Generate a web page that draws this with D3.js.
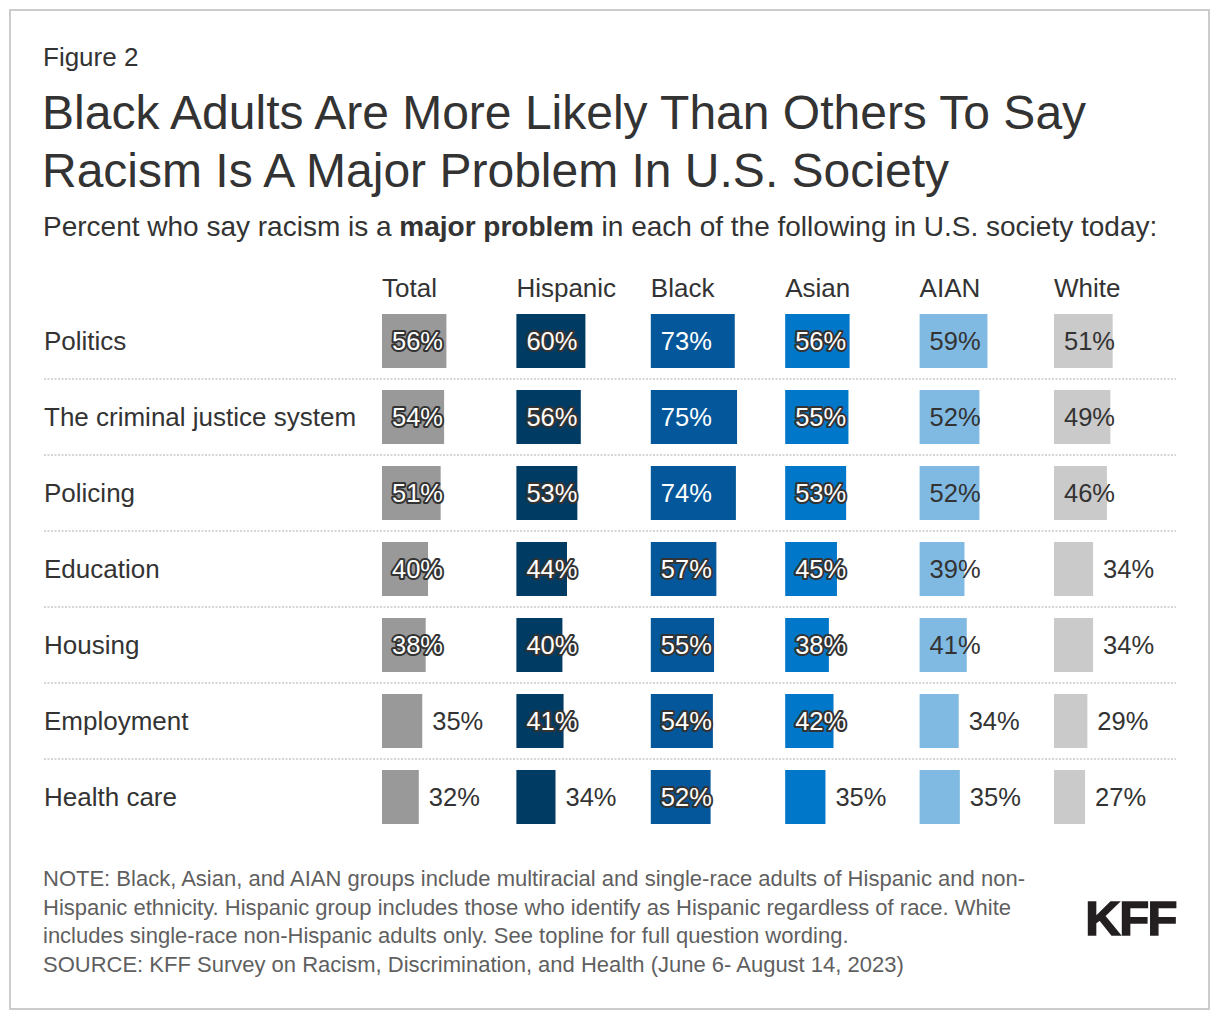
<!DOCTYPE html>
<html>
<head>
<meta charset="utf-8">
<script src="https://cdn.jsdelivr.net/npm/d3@7"></script>
<style>
  html, body { margin: 0; padding: 0; background: #fff; }
  svg { display: block; font-family: "Liberation Sans", Arial, sans-serif; }
</style>
</head>
<body>
<svg id="chart" width="1220" height="1020"></svg>
<script>
// ---- data ----
const categories = ["Politics", "The criminal justice system", "Policing", "Education", "Housing", "Employment", "Health care"];
const groups = ["Total", "Hispanic", "Black", "Asian", "AIAN", "White"];
const totalValues    = [56, 54, 51, 40, 38, 35, 32];
const hispanicValues = [60, 56, 53, 44, 40, 41, 34];
const blackValues    = [73, 75, 74, 57, 55, 54, 52];
const asianValues    = [56, 55, 53, 45, 38, 42, 35];
const aianValues     = [59, 52, 52, 39, 41, 34, 35];
const whiteValues    = [51, 49, 46, 34, 34, 29, 27];
const seriesValues = [totalValues, hispanicValues, blackValues, asianValues, aianValues, whiteValues];

// ---- styles ----
const colors = ["#999999", "#003b64", "#03579a", "#0077c8", "#80bae2", "#cacaca"];
const lightColumn = [false, false, false, false, true, true];
const textColor = "#333333";

const svg = d3.select("#chart");

// border
svg.append("rect").attr("x", 10).attr("y", 10).attr("width", 1199).attr("height", 999)
  .attr("fill", "#fff").attr("stroke", "#cccccc").attr("stroke-width", 2);

// header texts
svg.append("text").attr("x", 43).attr("y", 66).attr("font-size", 26).attr("fill", textColor).text("Figure 2");
svg.append("text").attr("x", 42).attr("y", 129).attr("font-size", 48).attr("fill", textColor)
  .text("Black Adults Are More Likely Than Others To Say");
svg.append("text").attr("x", 42).attr("y", 187).attr("font-size", 48).attr("fill", textColor)
  .text("Racism Is A Major Problem In U.S. Society");
const sub = svg.append("text").attr("x", 43).attr("y", 236).attr("font-size", 28).attr("fill", textColor);
sub.append("tspan").text("Percent who say racism is a ");
sub.append("tspan").attr("font-weight", "bold").text("major problem");
sub.append("tspan").text(" in each of the following in U.S. society today:");

// scales
const y = d3.scaleBand().domain(categories).range([303, 835]).paddingInner(22 / 76).paddingOuter(11 / 76);
const x = d3.scaleBand().domain(groups).range([382, 382 + 6 * 134.4]).paddingInner(0).paddingOuter(0);
const w = d3.scaleLinear().domain([0, 100]).range([0, 115]);

// column headers
svg.append("g").selectAll("text").data(groups).join("text")
  .attr("x", d => x(d)).attr("y", 297).attr("font-size", 26).attr("fill", textColor).text(d => d);

// separators
svg.append("g").selectAll("line").data(categories.slice(0, -1)).join("line")
  .attr("x1", 44).attr("x2", 1176)
  .attr("y1", d => y(d) + y.bandwidth() + 11).attr("y2", d => y(d) + y.bandwidth() + 11)
  .attr("stroke", "#d6d6d6").attr("stroke-width", 2).attr("stroke-dasharray", "2,1.5");

// row labels
svg.append("g").selectAll("text").data(categories).join("text")
  .attr("x", 44).attr("y", d => y(d) + y.bandwidth() / 2 + 9).attr("font-size", 26)
  .attr("fill", textColor).text(d => d);

// bars + labels
const cells = [];
groups.forEach((g, gi) => {
  categories.forEach((c, ci) => {
    cells.push({ g, gi, c, v: seriesValues[gi][ci] });
  });
});

svg.append("g").selectAll("rect").data(cells).join("rect")
  .attr("x", d => x(d.g)).attr("y", d => y(d.c))
  .attr("width", d => w(d.v)).attr("height", y.bandwidth())
  .attr("fill", d => colors[d.gi]);

const labels = svg.append("g").selectAll("text").data(cells).join("text")
  .attr("font-size", 25.5)
  .attr("y", d => y(d.c) + y.bandwidth() / 2 + 9)
  .attr("x", d => d.v > 36 ? x(d.g) + 10 : x(d.g) + w(d.v) + 10)
  .text(d => d.v + "%");

labels.each(function (d) {
  const t = d3.select(this);
  const inside = d.v > 36;
  if (!inside || lightColumn[d.gi]) {
    t.attr("fill", textColor);
  } else if (d.v >= 65) {
    t.attr("fill", "#ffffff");
  } else {
    t.attr("fill", "#ffffff").attr("stroke", "#333333").attr("stroke-width", 4)
      .attr("stroke-linejoin", "round").attr("paint-order", "stroke");
  }
});

// notes
const notes = [
  "NOTE: Black, Asian, and AIAN groups include multiracial and single-race adults of Hispanic and non-",
  "Hispanic ethnicity. Hispanic group includes those who identify as Hispanic regardless of race. White",
  "includes single-race non-Hispanic adults only. See topline for full question wording.",
  "SOURCE: KFF Survey on Racism, Discrimination, and Health (June 6- August 14, 2023)"
];
svg.append("g").selectAll("text").data(notes).join("text")
  .attr("x", 43).attr("y", (d, i) => 886 + i * 28.6).attr("font-size", 22).attr("fill", "#5f5f5f").text(d => d);

// logo
svg.append("text").attr("x", 1176).attr("y", 935).attr("text-anchor", "end")
  .attr("font-size", 49).attr("font-weight", "bold").attr("letter-spacing", -1.5)
  .attr("fill", "#231f20").attr("stroke", "#231f20").attr("stroke-width", 1.5).text("KFF");
</script>
</body>
</html>
